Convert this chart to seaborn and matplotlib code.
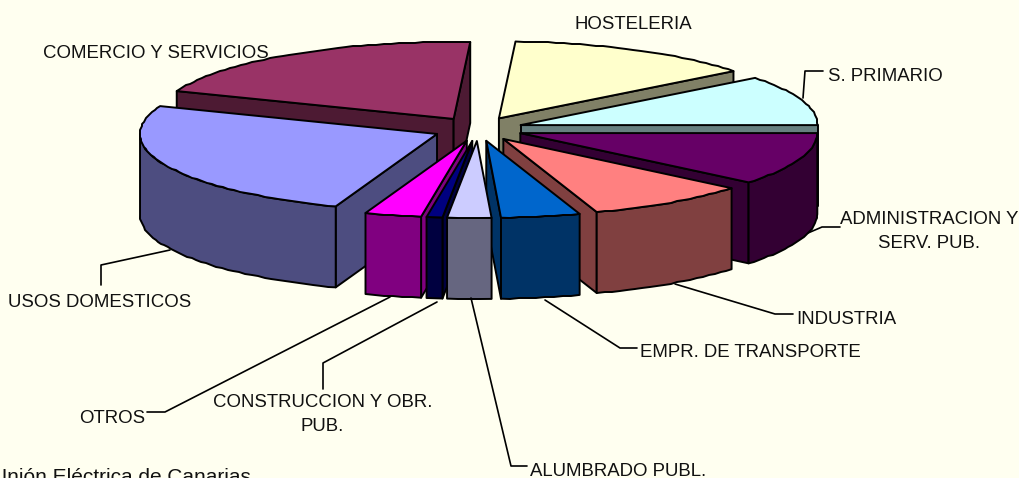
import numpy as np
import matplotlib
matplotlib.use("Agg")
import matplotlib.pyplot as plt
import seaborn as sns

# shares, clockwise from the 3 o'clock position
categories = ["ADMINISTRACION Y\nSERV. PUB.", "INDUSTRIA", "EMPR. DE TRANSPORTE", "ALUMBRADO PUBL.",
              "CONSTRUCCION Y OBR.\nPUB.", "OTROS", "USOS DOMESTICOS", "COMERCIO Y SERVICIOS",
              "HOSTELERIA", "S. PRIMARIO"]
shares = [11.05, 8.86, 4.3, 2.39, 0.86, 3.08, 25.35, 20.0, 13.6, 10.51]
top_colors = ["#660066", "#FF8080", "#0066CC", "#CCCCFF", "#000080", "#FF00FF", "#9999FF", "#993366", "#FFFFCC", "#CCFFFF"]
side_colors = ["#330033", "#804040", "#003366", "#666680", "#000040", "#800080", "#4D4D80", "#4D1A33", "#808066", "#668080"]

# label text: x, y, horizontal alignment
label_pos = [(929.5, 231.5, "center"), (796, 319.5, "left"), (640, 352.5, "left"), (530, 471, "left"),
             (322.5, 414.5, "center"), (79, 418.5, "left"), (8, 302.5, "left"), (43, 53.5, "left"),
             (633, 24.5, "center"), (828, 76.5, "left")]
leaders = [[(808, 233), (822, 227), (840, 227)],
           [(675, 284), (775, 314), (793, 314)],
           [(545, 300), (620, 348), (637, 348)],
           [(471, 298), (511, 466), (527, 466)],
           [(437, 302), (323, 363), (323, 389)],
           [(390, 297), (165, 412), (147, 412)],
           [(170, 250), (101, 265), (101, 285)],
           [],
           [],
           [(803, 98), (805, 71), (823, 71)]]

# geometry of the tilted pie, in pixels
cx, cy = 478, 129
rx, ry = 297, 77
ex, ey = 45, 12
depth = 81
bg = "#FFFFF0"
lw = 1.4

sns.set_style("white")
plt.rcParams["font.family"] = ["Liberation Sans", "DejaVu Sans"]

fig, ax = plt.subplots(figsize=(10.2, 4.78), dpi=100)
fig.patch.set_facecolor(bg)
ax.set_position([0, 0, 1, 1])
ax.set_xlim(0, 1020)
ax.set_ylim(478, 0)
ax.axis("off")


def face(pts, color, z):
    ax.fill([p[0] for p in pts], [p[1] for p in pts], facecolor=color, edgecolor="black",
            linewidth=lw, joinstyle="round", zorder=z)


def rim(a, b, ax0, ay0):
    # stepped arc, the source picture has a rough outline
    n = max(int(abs(b - a) * 180 / np.pi / 1.5), 2)
    t = np.linspace(a, b, n)
    x = np.round(ax0 + rx * np.cos(t))
    y = np.round(ay0 + ry * np.sin(t))
    x[0], y[0] = ax0 + rx * np.cos(a), ay0 + ry * np.sin(a)
    x[-1], y[-1] = ax0 + rx * np.cos(b), ay0 + ry * np.sin(b)
    return list(zip(x, y))


edges = np.cumsum([0] + shares) / sum(shares) * 2 * np.pi
slices = []
for i in range(len(shares)):
    slices.append((edges[i], edges[i + 1], i))
# back slices first
slices.sort(key=lambda s: np.sin((s[0] + s[1]) / 2))

z = 1
for a, b, i in slices:
    m = (a + b) / 2
    ax0 = cx + ex * np.cos(m)
    ay0 = cy + ey * np.sin(m)
    top = top_colors[i]
    side = side_colors[i]

    # cut faces, only those turned to the viewer
    if np.cos(a) < 0:
        pa = (ax0 + rx * np.cos(a), ay0 + ry * np.sin(a))
        face([(ax0, ay0), pa, (pa[0], pa[1] + depth), (ax0, ay0 + depth)], side, z)
        z += 1
    if np.cos(b) > 0:
        pb = (ax0 + rx * np.cos(b), ay0 + ry * np.sin(b))
        face([(ax0, ay0), pb, (pb[0], pb[1] + depth), (ax0, ay0 + depth)], side, z)
        z += 1

    # outer wall, front half only
    wa = max(a, 0)
    wb = min(b, np.pi)
    if wb > wa:
        arc = rim(wa, wb, ax0, ay0)
        face(arc + [(p[0], p[1] + depth) for p in arc[::-1]], side, z)
        z += 1

    face([(ax0, ay0)] + rim(a, b, ax0, ay0), top, z)
    z += 1

for line in leaders:
    if line:
        ax.plot([p[0] for p in line], [p[1] for p in line], color="black", lw=1.2, zorder=z)
z += 1

for name, (x, y, ha) in zip(categories, label_pos):
    ax.text(x, y, name, ha=ha, va="center", fontsize=13.4, color="#111111", linespacing=1.55, zorder=z)

# the reference cuts this line off at the corner of the picture
ax.text(-8, 483, "Unión Eléctrica de Canarias", ha="left", va="baseline", fontsize=15, color="#111111", zorder=z)

fig.savefig("out.png", dpi=100, facecolor=bg)
